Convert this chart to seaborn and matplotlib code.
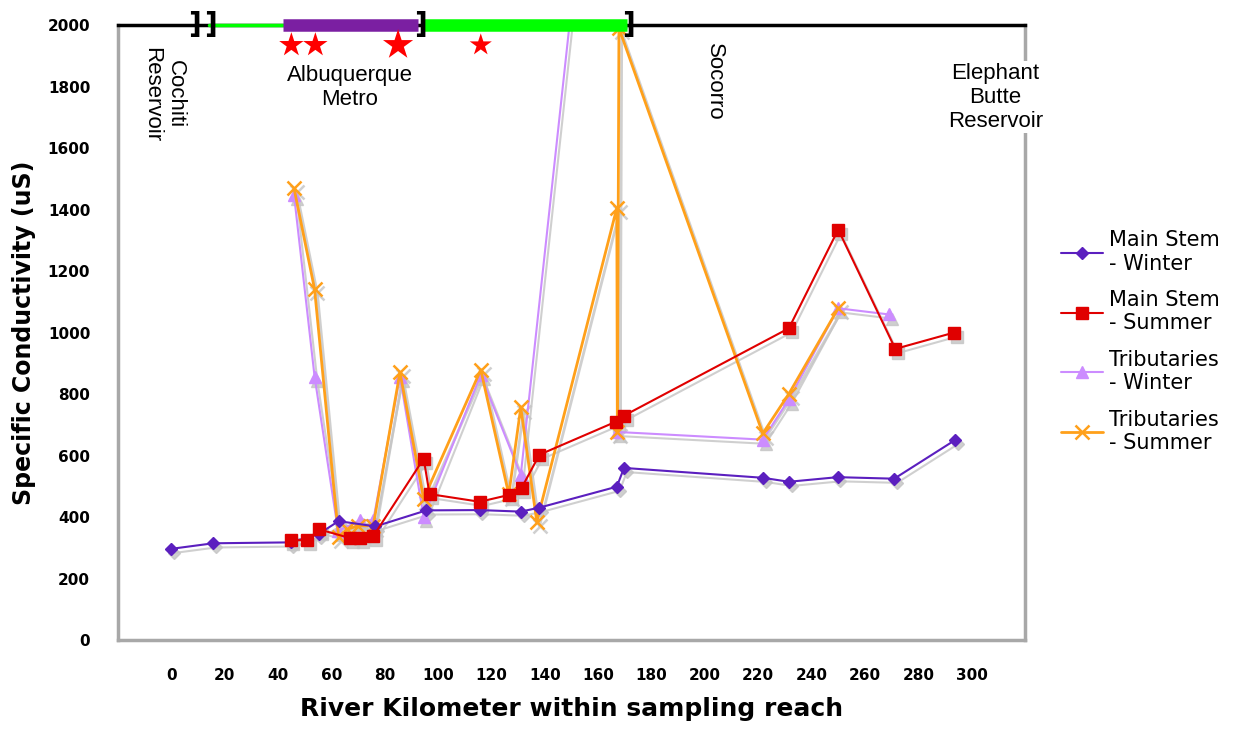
import matplotlib
matplotlib.use('Agg')
import matplotlib.pyplot as plt
import matplotlib.transforms as mtransforms
from matplotlib.lines import Line2D
import seaborn as sns
import pandas as pd

# River kilometer / specific conductivity (uS) for each series
ms_winter_km = [0, 15.7, 44.7, 55.2, 62.7, 76.5, 95.6, 115.6, 131, 138, 167, 169.7, 221.7, 231.5, 249.8, 271, 293.7]
ms_winter_sc = [297, 315, 318, 345, 387, 370, 422, 423, 418, 431, 499, 560, 528, 515, 530, 525, 650]

ms_summer_km = [44.7, 50.9, 55.5, 67, 70.7, 75.7, 94.6, 96.8, 115.6, 126.5, 131.3, 138, 166.6, 169.7, 231.5, 250, 271.4, 293.4]
ms_summer_sc = [325, 325, 360, 332, 332, 338, 590, 475, 450, 472, 495, 603, 710, 730, 1014, 1335, 947, 1000]

# tributaries winter: off-scale reading near km 150, line resumes at km 167
trib_winter_km = [46, 53.7, 62.5, 70.7, 75.7, 85.7, 94.6, 116, 131, 150, 167, 221.7, 231.5, 250, 269]
trib_winter_sc = [1447, 857, 355, 390, 390, 857, 400, 863, 537, 2060, 677, 652, 783, 1079, 1059]
trib_winter_seg = [0, 0, 0, 0, 0, 0, 0, 0, 0, 0, 1, 1, 1, 1, 1]

trib_summer_km = [46, 53.7, 62.7, 65.8, 70.1, 75.7, 85.7, 94.6, 116, 126.5, 131, 137, 167, 167.2, 167.8, 221.7, 231.5, 250]
trib_summer_sc = [1469, 1141, 337, 360, 372, 372, 871, 460, 879, 474, 757, 385, 1405, 677, 1990, 672, 801, 1079]

x_ticks = list(range(0, 301, 20))
y_ticks = list(range(0, 2001, 200))

# reach bar along the top (km)
reach_thin = [14, 42]
reach_metro = [42, 92.5]
reach_middle = [94.5, 171]
bracket_km = [8.5, 14.5, 93.5, 171.5]
star_km = [45, 54, 85, 116]
star_size = [340, 340, 520, 280]

sns.set_style('white')
plt.rcParams['font.family'] = ['DejaVu Sans']
plt.rcParams['text.color'] = 'black'
plt.rcParams['axes.labelcolor'] = 'black'
plt.rcParams['xtick.labelcolor'] = 'black'
plt.rcParams['ytick.labelcolor'] = 'black'

fig, ax = plt.subplots(figsize=(12.34, 7.35), dpi=100)
fig.subplots_adjust(left=0.0956, right=0.8306, top=0.966, bottom=0.129)

# Excel-style drop shadow: same series drawn in grey, shifted down-right
shadow_tf = ax.transData + mtransforms.ScaledTranslation(2 / 72, -3 / 72, fig.dpi_scale_trans)

c_msw = '#5B1FBF'
c_mss = '#E00000'
c_tw = '#CC8CFF'
c_ts = '#FFA01A'


def series(km, sc, color, marker, ms, lw, mew=1.0, units=None, z=4):
    base = dict(ax=ax, sort=False, estimator=None, lw=lw, marker=marker, markersize=ms,
                markeredgewidth=mew)
    if units is not None:
        base['units'] = units
    sns.lineplot(x=km, y=sc, color='#C4C4C4', markeredgecolor='#C4C4C4', transform=shadow_tf,
                 zorder=z - 1.5, alpha=0.8, **base)
    sns.lineplot(x=km, y=sc, color=color, markeredgecolor=color, zorder=z, **base)


series(trib_winter_km, trib_winter_sc, c_tw, '^', 9, 1.5, units=trib_winter_seg, z=3)
series(trib_summer_km, trib_summer_sc, c_ts, 'x', 10, 2.0, mew=1.8, z=3.2)
series(ms_winter_km, ms_winter_sc, c_msw, 'D', 6, 1.5, z=4)
series(ms_summer_km, ms_summer_sc, c_mss, 's', 8, 1.5, z=4.2)

ax.set_xlim(-20, 320)
ax.set_ylim(0, 2000)
ax.set_xticks(x_ticks)
ax.set_yticks(y_ticks)
ax.tick_params(axis='both', which='major', length=4, color='#AAAAAA', labelcolor='black',
               direction='out', pad=16)
ax.tick_params(axis='x', labelsize=11)
ax.tick_params(axis='y', labelsize=11)
for lab in ax.get_xticklabels() + ax.get_yticklabels():
    lab.set_fontweight('bold')

for side in ['left', 'right', 'bottom']:
    ax.spines[side].set_color('#A8A8A8')
    ax.spines[side].set_linewidth(2.5)
ax.spines['top'].set_color('black')
ax.spines['top'].set_linewidth(2.5)

ax.set_xlabel('River Kilometer within sampling reach', fontsize=18, fontweight='bold', labelpad=10)
ax.set_ylabel('Specific Conductivity (uS)', fontsize=17, fontweight='bold', labelpad=8)

# reach bar along the top
ax.plot(reach_thin, [2000, 2000], color='#00FF00', lw=2.5, clip_on=False, zorder=6)
ax.plot(reach_metro, [2000, 2000], color='#7B1FA2', lw=9, solid_capstyle='butt', clip_on=False, zorder=6)
ax.plot(reach_middle, [2000, 2000], color='#00FF00', lw=9, solid_capstyle='butt', clip_on=False, zorder=6)
for k in bracket_km:
    ax.text(k, 2000, ']', fontsize=20, fontweight='bold', ha='center', va='center',
            clip_on=False, zorder=7)
ax.scatter(star_km, [1935] * len(star_km), s=star_size, marker='*', color='#FF0000',
           clip_on=False, zorder=7, linewidths=0)

txt_font = ['Liberation Sans', 'DejaVu Sans']
ax.text(-3, 1775, 'Cochiti\nReservoir', rotation=-90, fontsize=16, family=txt_font,
        ha='center', va='center', multialignment='center')
ax.text(67, 1797, 'Albuquerque\nMetro', fontsize=16, family=txt_font, ha='center', va='center',
        multialignment='center')
ax.text(203.5, 1815, 'Socorro', rotation=-90, fontsize=16, family=txt_font, ha='center', va='center')
ax.text(309, 1765, 'Elephant\nButte\nReservoir', fontsize=16, family=txt_font, ha='center',
        va='center', multialignment='center', zorder=8,
        bbox=dict(facecolor='white', edgecolor='none', pad=1))

handles = [
    Line2D([], [], color=c_msw, lw=1.5, marker='D', markersize=6),
    Line2D([], [], color=c_mss, lw=1.5, marker='s', markersize=8),
    Line2D([], [], color=c_tw, lw=1.5, marker='^', markersize=9),
    Line2D([], [], color=c_ts, lw=2.0, marker='x', markersize=10, markeredgewidth=1.8),
]
labels = ['Main Stem\n- Winter', 'Main Stem\n- Summer', 'Tributaries\n- Winter', 'Tributaries\n- Summer']
fig.legend(handles, labels, loc='center left', bbox_to_anchor=(0.845, 0.535), frameon=False,
           fontsize=15, handlelength=2.0, handletextpad=0.3, labelspacing=0.8)

fig.savefig('out.png', dpi=100)
